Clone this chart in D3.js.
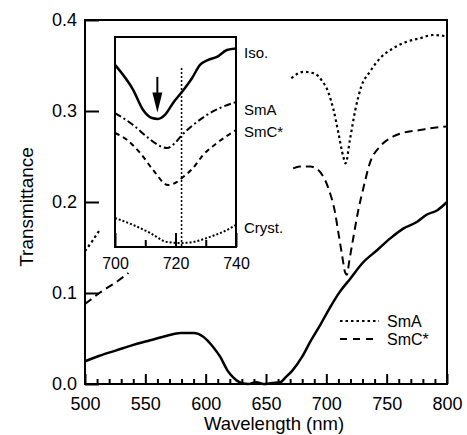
<!DOCTYPE html>
<html>
<head>
<meta charset="utf-8">
<script src="https://cdn.jsdelivr.net/npm/d3@7"></script>
<style>
    body { margin: 0; background: #fff; }
    svg { font-family: "Liberation Sans", Arial, Helvetica, sans-serif; }
</style>
</head>
<body>
<svg id="chart" width="467" height="435"></svg>
<script>
/**********************************************
 * data
 **********************************************/
// main spectrum (solid line), wavelength in nm / transmittance
const solidWl = [500, 512, 526, 540, 554, 568, 579, 590, 598, 606, 612, 618, 623, 628, 635, 642, 648, 655, 662, 666, 672, 680, 686.5, 695, 703, 711, 720, 730, 742, 753, 764, 775, 783, 792, 800]
const solidT  = [0.025, 0.031, 0.037, 0.043, 0.048, 0.053, 0.056, 0.056, 0.052, 0.041, 0.030, 0.015, 0.007, 0.002, 0.000, 0.002, 0.000, 0.001, 0.002, 0.007, 0.015, 0.030, 0.046, 0.065, 0.084, 0.101, 0.116, 0.133, 0.147, 0.160, 0.171, 0.178, 0.186, 0.191, 0.200]

// SmA (dotted), visible left piece and right piece
const smaWlLeft = [500, 506, 512]
const smaTLeft  = [0.146, 0.157, 0.169]
const smaWl = [671, 681, 690.5, 696, 701.5, 706, 710, 714, 716, 719.5, 724, 729, 736, 744.5, 755.5, 766.5, 777.5, 788.5, 800]
const smaT  = [0.336, 0.343, 0.341, 0.334, 0.321, 0.301, 0.276, 0.250, 0.2425, 0.268, 0.301, 0.327, 0.343, 0.358, 0.369, 0.376, 0.380, 0.3835, 0.382]

// SmC* (dashed), visible left piece and right piece
const smcWlLeft = [500, 506, 512, 520, 528, 536]
const smcTLeft  = [0.088, 0.094, 0.100, 0.107, 0.114, 0.122]
const smcWl = [672.5, 678, 686.5, 693.5, 699, 703, 707, 710, 713, 715.5, 717, 719, 722, 726.5, 731, 736, 744.5, 755.5, 766.5, 777.5, 786, 800]
const smcT  = [0.237, 0.239, 0.239, 0.235, 0.224, 0.210, 0.190, 0.166, 0.142, 0.123, 0.120, 0.135, 0.158, 0.191, 0.217, 0.2425, 0.261, 0.272, 0.277, 0.279, 0.281, 0.283]

const xTicksMajor = [500, 550, 600, 650, 700, 750, 800]
const yTicks = [0.0, 0.1, 0.2, 0.3, 0.4]

// inset: wavelength 700-740 nm, arbitrary vertical units (0 bottom, 1 top)
const isoWl = [700, 706, 709.3, 712.2, 714.2, 716.5, 719.2, 722.1, 725.5, 728.1, 730.7, 733.7, 737, 740]
const isoV  = [0.867, 0.748, 0.652, 0.614, 0.610, 0.629, 0.686, 0.738, 0.805, 0.867, 0.890, 0.905, 0.938, 0.945]
const insetSmaWl = [700, 706, 710.6, 714.2, 717.2, 719.8, 722.1, 725.8, 730.4, 734.7, 740]
const insetSmaV  = [0.638, 0.581, 0.524, 0.486, 0.471, 0.495, 0.533, 0.581, 0.629, 0.662, 0.690]
const insetSmcWl = [700, 704, 708.3, 712.6, 717.5, 720.5, 722.5, 725.8, 729.1, 733.7, 740]
const insetSmcV  = [0.543, 0.510, 0.448, 0.367, 0.295, 0.310, 0.333, 0.376, 0.438, 0.495, 0.557]
const crystWl = [700, 706, 711.6, 717.2, 721.5, 725.8, 731.4, 737, 740]
const crystV  = [0.138, 0.105, 0.067, 0.024, 0.019, 0.024, 0.048, 0.081, 0.105]

const insetLabels = ["Iso.", "SmA", "SmC*", "Cryst."]
const insetLabelV = [0.924, 0.652, 0.548, 0.09]
const insetTicksLabelled = [700, 720, 740]
const insetTicksMinor = [710, 730]
const markerWl = 722          // vertical dotted marker
const markerTop = 0.852
const arrowWl = 714
const arrowFrom = 0.81
const arrowTo = 0.64

const legendNames = ["SmA", "SmC*"]

/**********************************************
 * chart
 **********************************************/
const svg = d3.select("#chart")
const frame = { left: 85, right: 447, top: 20, bottom: 384 }
const inset = { left: 115, right: 236, top: 37, bottom: 247 }

const x = d3.scaleLinear().domain([500, 800]).range([frame.left, frame.right])
const y = d3.scaleLinear().domain([0, 0.4]).range([frame.bottom, frame.top])
const xi = d3.scaleLinear().domain([700, 740]).range([inset.left, inset.right])
const yi = d3.scaleLinear().domain([0, 1]).range([inset.bottom, inset.top])

const mainLine = d3.line().x(d => x(d[0])).y(d => y(d[1])).curve(d3.curveMonotoneX)
const insetLine = d3.line().x(d => xi(d[0])).y(d => yi(d[1])).curve(d3.curveMonotoneX)
const zip = (a, b) => a.map((v, i) => [v, b[i]])

// axes
const minorTicks = d3.range(510, 800, 10).filter(v => v % 50 !== 0)
svg.append("g")
    .attr("transform", `translate(0, ${frame.bottom})`)
    .call(d3.axisBottom(x).tickValues(minorTicks).tickSizeInner(-5).tickSizeOuter(0).tickFormat(""))
svg.append("g")
    .attr("class", "xmajor")
    .attr("transform", `translate(0, ${frame.bottom})`)
    .call(d3.axisBottom(x).tickValues(xTicksMajor).tickSizeInner(-10).tickSizeOuter(0).tickPadding(13).tickFormat(d3.format("d")))
svg.append("g")
    .attr("class", "ymajor")
    .attr("transform", `translate(${frame.left}, 0)`)
    .call(d3.axisLeft(y).tickValues(yTicks).tickSizeInner(-14).tickSizeOuter(0).tickPadding(8).tickFormat(d3.format(".1f")))

svg.selectAll(".domain").remove()
svg.selectAll(".tick line").attr("stroke", "#000").attr("stroke-width", 2)
svg.selectAll(".xmajor text").style("font-size", "18px").attr("fill", "#000")
svg.selectAll(".ymajor text").style("font-size", "18px").attr("fill", "#000")

// frame
svg.append("rect")
    .attr("x", frame.left).attr("y", frame.top)
    .attr("width", frame.right - frame.left).attr("height", frame.bottom - frame.top)
    .attr("fill", "none").attr("stroke", "#000").attr("stroke-width", 2)

// axis titles
svg.append("text")
    .attr("x", 274).attr("y", 430)
    .attr("text-anchor", "middle")
    .style("font-size", "18.5px")
    .text("Wavelength (nm)")
svg.append("text")
    .attr("transform", "translate(33, 207) rotate(-90)")
    .attr("text-anchor", "middle")
    .style("font-size", "19px")
    .text("Transmittance")

// main curves
svg.append("path").datum(zip(solidWl, solidT))
    .attr("d", mainLine).attr("fill", "none").attr("stroke", "#000").attr("stroke-width", 2.5)
const dotted = "2.5,3"
const dashed = "8,5"
for (const [wl, t] of [[smaWlLeft, smaTLeft], [smaWl, smaT]]) {
    svg.append("path").datum(zip(wl, t))
        .attr("d", mainLine).attr("fill", "none").attr("stroke", "#000")
        .attr("stroke-width", 2.2).attr("stroke-dasharray", dotted)
}
for (const [wl, t] of [[smcWlLeft, smcTLeft], [smcWl, smcT]]) {
    svg.append("path").datum(zip(wl, t))
        .attr("d", mainLine).attr("fill", "none").attr("stroke", "#000")
        .attr("stroke-width", 2).attr("stroke-dasharray", dashed)
}

// legend
const legend = svg.append("g")
legendNames.forEach((name, i) => {
    const ly = 321 + i * 18
    legend.append("line")
        .attr("x1", 340).attr("x2", 379).attr("y1", ly).attr("y2", ly)
        .attr("stroke", "#000").attr("stroke-width", 2)
        .attr("stroke-dasharray", i === 0 ? dotted : "7,6")
    legend.append("text")
        .attr("x", 387).attr("y", ly).attr("dy", "0.35em")
        .style("font-size", "16px")
        .text(name)
})

/**********************************************
 * inset
 **********************************************/
const gi = svg.append("g")
gi.append("rect")
    .attr("x", inset.left).attr("y", inset.top)
    .attr("width", inset.right - inset.left).attr("height", inset.bottom - inset.top)
    .attr("fill", "#fff").attr("stroke", "#000").attr("stroke-width", 2)

gi.append("g")
    .attr("class", "iaxis")
    .attr("transform", `translate(0, ${inset.bottom})`)
    .call(d3.axisBottom(xi).tickValues(insetTicksLabelled).tickSizeInner(-14).tickSizeOuter(0).tickPadding(11).tickFormat(d3.format("d")))
gi.append("g")
    .attr("class", "iaxis")
    .attr("transform", `translate(0, ${inset.bottom})`)
    .call(d3.axisBottom(xi).tickValues(insetTicksMinor).tickSizeInner(-7).tickSizeOuter(0).tickFormat(""))
gi.selectAll(".domain").remove()
gi.selectAll(".tick line").attr("stroke", "#000").attr("stroke-width", 2)
gi.selectAll(".iaxis text").style("font-size", "16px").attr("fill", "#000")

// marker line
gi.append("line")
    .attr("x1", xi(markerWl)).attr("x2", xi(markerWl))
    .attr("y1", yi(markerTop)).attr("y2", yi(0))
    .attr("stroke", "#000").attr("stroke-width", 1.5).attr("stroke-dasharray", "2,2")

gi.append("path").datum(zip(isoWl, isoV))
    .attr("d", insetLine).attr("fill", "none").attr("stroke", "#000").attr("stroke-width", 2.5)
gi.append("path").datum(zip(insetSmaWl, insetSmaV))
    .attr("d", insetLine).attr("fill", "none").attr("stroke", "#000").attr("stroke-width", 2)
    .attr("stroke-dasharray", "7,3,2,3")
gi.append("path").datum(zip(insetSmcWl, insetSmcV))
    .attr("d", insetLine).attr("fill", "none").attr("stroke", "#000").attr("stroke-width", 2)
    .attr("stroke-dasharray", "5,4")
gi.append("path").datum(zip(crystWl, crystV))
    .attr("d", insetLine).attr("fill", "none").attr("stroke", "#000").attr("stroke-width", 2)
    .attr("stroke-dasharray", "2,2")

// arrow
const ax = xi(arrowWl)
gi.append("line")
    .attr("x1", ax).attr("x2", ax)
    .attr("y1", yi(arrowFrom)).attr("y2", yi(arrowTo) - 10)
    .attr("stroke", "#000").attr("stroke-width", 2)
gi.append("path")
    .attr("d", `M${ax - 5},${yi(arrowTo) - 20} L${ax + 5},${yi(arrowTo) - 20} L${ax},${yi(arrowTo)} Z`)
    .attr("fill", "#000")

// curve labels
insetLabels.forEach((name, i) => {
    gi.append("text")
        .attr("x", inset.right + 8).attr("y", yi(insetLabelV[i])).attr("dy", "0.35em")
        .style("font-size", "15px")
        .text(name)
})
</script>
</body>
</html>
